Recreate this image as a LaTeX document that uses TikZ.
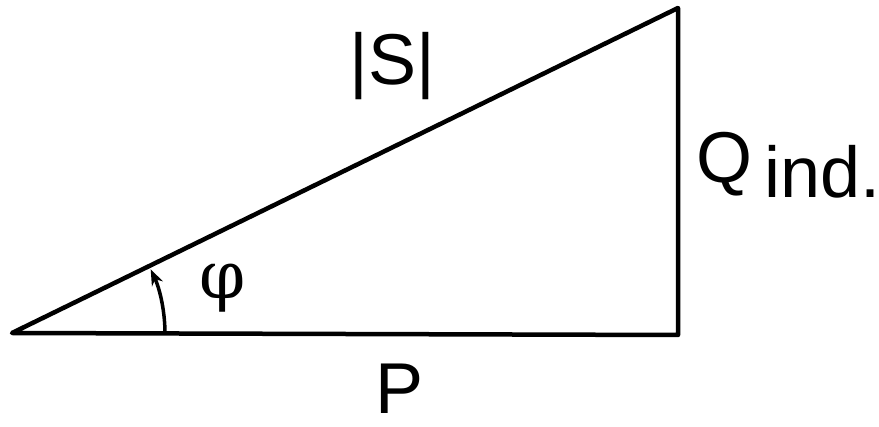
\documentclass[tikz,border=0pt]{standalone}
\usepackage{fontspec}
\setmainfont{Liberation Sans}
\newfontfamily\phifont{DejaVu Serif}
\usetikzlibrary{arrows.meta}
\begin{document}
\begin{tikzpicture}[x=1pt,y=-1pt,
  side/.style={line width=4.5pt,line cap=round,line join=round},
  lbl/.style={font=\fontsize{72}{80}\selectfont,inner sep=0pt},
  anglearrow/.style={line width=3.5pt,-{Stealth[length=16pt,width=12pt]}}]
\useasboundingbox (0,0) rectangle (879,427);
\coordinate (A) at (12,333);
\coordinate (B) at (678,335);
\coordinate (C) at (678,8);
\draw[side] (A) -- (B) -- (C) -- cycle;
\coordinate (arcstart) at (165,334);
\draw[anglearrow] (arcstart) arc[start angle=0,end angle=-25,radius=153];
\node[lbl] (S) at (392,66) {|S|};
\node[lbl] (P) at (400,389) {P};
\node[lbl,anchor=base west] (Q) at (696,183) {Q\,\raisebox{-15pt}{ind.}};
\node[lbl,font=\fontsize{66}{70}\phifont] (phi) at (223,288) {φ};
\end{tikzpicture}
\end{document}
